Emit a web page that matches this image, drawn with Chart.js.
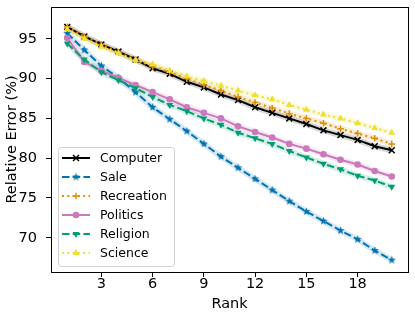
<!DOCTYPE html>
<html>
<head>
<meta charset="utf-8">
<script src="https://cdn.jsdelivr.net/npm/chart.js@4.4.0/dist/chart.umd.min.js"></script>
<style>
  html, body { margin: 0; padding: 0; background: #fff; }
  #wrap { width: 415px; height: 320px; }
</style>
</head>
<body>
<div id="wrap"><canvas id="chart" width="415" height="320"></canvas></div>
<script>
// Data
const ranks = [1, 2, 3, 4, 5, 6, 7, 8, 9, 10, 11, 12, 13, 14, 15, 16, 17, 18, 19, 20]
const computer = [96.5, 95.3, 94.3, 93.4, 92.4, 91.3, 90.6, 89.6, 88.9, 88.0, 87.3, 86.4, 85.7, 85.0, 84.3, 83.5, 82.9, 82.3, 81.5, 81.0]
const sale = [95.7, 93.6, 91.6, 90.1, 88.3, 86.4, 84.9, 83.4, 81.8, 80.2, 78.8, 77.4, 76.0, 74.6, 73.3, 72.1, 70.9, 69.8, 68.4, 67.2]
const recreation = [96.5, 95.3, 94.3, 93.3, 92.4, 91.5, 90.8, 90.0, 89.2, 88.5, 87.7, 87.0, 86.3, 85.6, 85.0, 84.4, 83.7, 83.1, 82.5, 81.8]
const politics = [95.1, 92.1, 91.0, 90.1, 89.2, 88.3, 87.4, 86.4, 85.7, 85.0, 84.0, 83.3, 82.6, 81.8, 81.2, 80.5, 79.8, 79.2, 78.4, 77.7]
const religion = [94.4, 92.4, 90.8, 89.8, 88.8, 87.7, 86.7, 85.9, 85.0, 84.2, 83.2, 82.5, 81.8, 80.9, 80.1, 79.3, 78.6, 77.8, 77.2, 76.4]
const science = [96.2, 95.0, 94.0, 93.2, 92.3, 91.8, 91.0, 90.3, 89.7, 89.1, 88.5, 87.9, 87.4, 86.7, 86.1, 85.5, 85.0, 84.4, 83.8, 83.2]

const xTicks = [3, 6, 9, 12, 15, 18]
const yTicks = [70, 75, 80, 85, 90, 95]

const FONT = "'DejaVu Sans', sans-serif"

// filled 5-point star like matplotlib's '*'
function makeStar(color, r) {
  const c = document.createElement("canvas")
  const size = Math.ceil(r * 2 + 2)
  c.width = size
  c.height = size
  const ctx = c.getContext("2d")
  ctx.fillStyle = color
  ctx.beginPath()
  for (let i = 0; i < 10; i++) {
    const rad = i % 2 === 0 ? r : r * 0.4
    const a = -Math.PI / 2 + (i * Math.PI) / 5
    const px = size / 2 + rad * Math.cos(a)
    const py = size / 2 + rad * Math.sin(a)
    if (i === 0) ctx.moveTo(px, py)
    else ctx.lineTo(px, py)
  }
  ctx.closePath()
  ctx.fill()
  return c
}

function toPoints(values) {
  return ranks.map((r, i) => ({ x: r, y: values[i] }))
}

const series = [
  { label: "Computer", values: computer, color: "#000000", dash: [], style: "crossRot", radius: 4.2, rot: 0 },
  { label: "Sale", values: sale, color: "#0173B2", dash: [7.5, 3.2], style: makeStar("#0173B2", 4.3), radius: 4.3, rot: 0 },
  { label: "Recreation", values: recreation, color: "#DE8F05", dash: [2, 3.3], style: "cross", radius: 3.3, rot: 0 },
  { label: "Politics", values: politics, color: "#CC78BC", dash: [], style: "circle", radius: 3.3, rot: 0 },
  { label: "Religion", values: religion, color: "#029E73", dash: [7.5, 3.2], style: "triangle", radius: 4, rot: 180 },
  { label: "Science", values: science, color: "#ECE133", dash: [2, 3.3], style: "triangle", radius: 4, rot: 0 },
]

function hexAlpha(hex, a) {
  const n = parseInt(hex.slice(1), 16)
  return `rgba(${(n >> 16) & 255}, ${(n >> 8) & 255}, ${n & 255}, ${a})`
}

const datasets = []
series.forEach((s, i) => {
  // soft band behind each line
  datasets.push({
    label: s.label + " band",
    isBand: true,
    data: toPoints(s.values),
    borderColor: hexAlpha(s.color, 0.16),
    borderWidth: 6,
    pointRadius: 0,
    fill: false,
    tension: 0,
    order: 100 - i,
  })
})
series.forEach((s, i) => {
  datasets.push({
    label: s.label,
    data: toPoints(s.values),
    borderColor: s.color,
    backgroundColor: s.color,
    borderWidth: 2,
    borderDash: s.dash,
    borderCapStyle: "butt",
    pointStyle: s.style,
    pointRadius: s.radius,
    pointRotation: s.rot,
    pointBorderWidth: s.style === "cross" || s.style === "crossRot" ? 1.5 : 0,
    pointBackgroundColor: s.color,
    pointBorderColor: s.color,
    fill: false,
    tension: 0,
    order: 10 - i,
  })
})

// axes frame on all four sides
const frame = {
  id: "frame",
  afterDatasetsDraw(chart) {
    const { ctx, chartArea: a } = chart
    ctx.save()
    ctx.strokeStyle = "#000"
    ctx.lineWidth = 1
    ctx.strokeRect(Math.round(a.left) + 0.5, Math.round(a.top) + 0.5, Math.round(a.right - a.left), Math.round(a.bottom - a.top))
    ctx.restore()
  },
}

function drawMarker(ctx, ds, x, y) {
  ctx.fillStyle = ds.pointBackgroundColor
  ctx.strokeStyle = ds.pointBorderColor
  ctx.lineWidth = ds.pointBorderWidth
  Chart.helpers.drawPoint(ctx, {
    pointStyle: ds.pointStyle,
    rotation: ds.pointRotation,
    radius: ds.pointRadius,
    borderWidth: ds.pointBorderWidth,
  }, x, y)
}

// legend box inside the plot, lower left
const legendBox = {
  id: "legendBox",
  afterDraw(chart) {
    const ctx = chart.ctx
    const items = chart.data.datasets.filter((d) => !d.isBand)
    const bx = 58, by = 147, bw = 116, bh = 119, rowH = 19
    ctx.save()
    ctx.fillStyle = "rgba(255,255,255,0.8)"
    ctx.strokeStyle = "#d0d0d0"
    ctx.lineWidth = 1
    ctx.beginPath()
    ctx.roundRect(bx + 0.5, by + 0.5, bw, bh, 3)
    ctx.fill()
    ctx.stroke()
    items.forEach((ds, i) => {
      const y = by + 11 + i * rowH
      ctx.strokeStyle = ds.borderColor
      ctx.lineWidth = ds.borderWidth
      ctx.setLineDash(ds.borderDash)
      ctx.beginPath()
      ctx.moveTo(62, y)
      ctx.lineTo(90, y)
      ctx.stroke()
      ctx.setLineDash([])
      drawMarker(ctx, ds, 76, y)
      ctx.fillStyle = "#000"
      ctx.font = "12.5px " + FONT
      ctx.textBaseline = "middle"
      ctx.textAlign = "left"
      ctx.fillText(ds.label, 100, y + 1)
    })
    ctx.restore()
  },
}

new Chart(document.getElementById("chart"), {
  type: "line",
  data: { datasets },
  options: {
    responsive: false,
    animation: false,
    layout: { padding: { top: 7, right: 7, left: 0, bottom: 0 } },
    plugins: { legend: { display: false }, tooltip: { enabled: false } },
    scales: {
      x: {
        type: "linear",
        min: 0.05,
        max: 20.95,
        afterBuildTicks: (scale) => { scale.ticks = xTicks.map((v) => ({ value: v })) },
        afterFit: (scale) => {
          scale.height = 48
          scale.paddingLeft = 0
          scale.paddingRight = 0
        },
        grid: { display: true, drawOnChartArea: false, drawTicks: true, tickLength: 5, color: "#000" },
        border: { display: false },
        ticks: { color: "#000", font: { family: FONT, size: 14.5 }, padding: -1, maxRotation: 0 },
        title: { display: true, text: "Rank", color: "#000", font: { family: FONT, size: 14.5 }, padding: { top: 0, bottom: 7 } },
      },
      y: {
        min: 65.7,
        max: 99,
        afterBuildTicks: (scale) => { scale.ticks = yTicks.map((v) => ({ value: v })) },
        afterFit: (scale) => {
          scale.width = 51
          scale.paddingTop = 0
          scale.paddingBottom = 0
        },
        grid: { display: true, drawOnChartArea: false, drawTicks: true, tickLength: 5, color: "#000" },
        border: { display: false },
        ticks: { color: "#000", font: { family: FONT, size: 14.5 }, padding: 9 },
        title: { display: true, text: "Relative Error (%)", color: "#000", font: { family: FONT, size: 14.5 }, padding: { top: 3.5, bottom: 0 } },
      },
    },
  },
  plugins: [frame, legendBox],
})
</script>
</body>
</html>
